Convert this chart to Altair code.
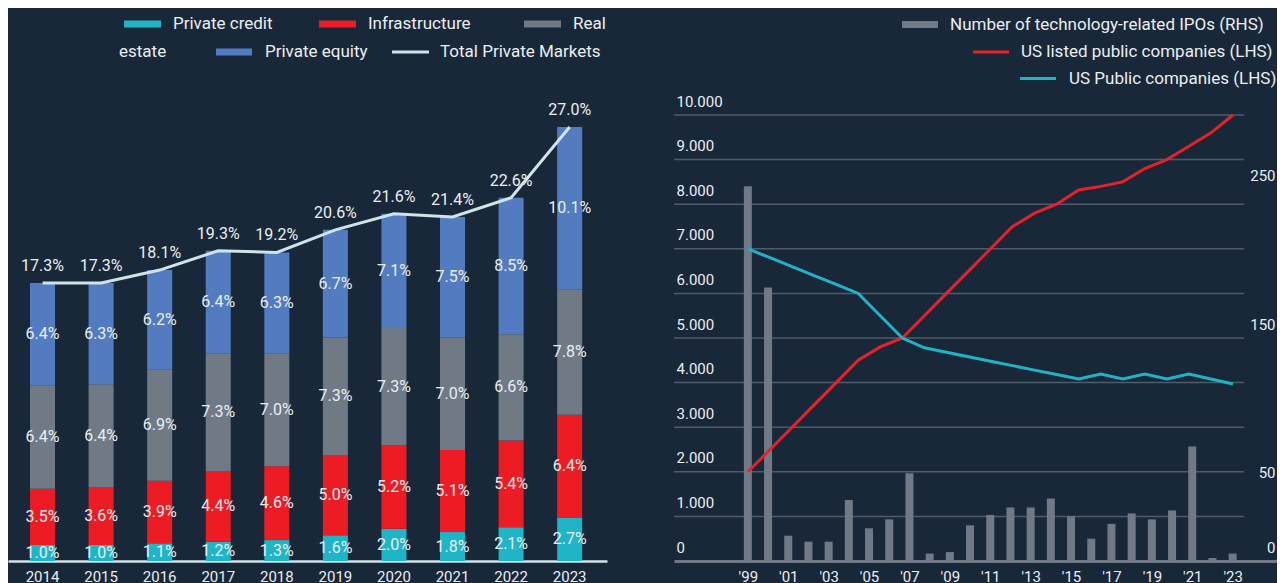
import altair as alt
import pandas as pd

FONT = "Roboto"
TXT = "#e9eef2"
BG = "#192838"

# ---------------- Left panel data ----------------
years = ["2014", "2015", "2016", "2017", "2018", "2019", "2020", "2021", "2022", "2023"]
private_credit = [1.0, 1.0, 1.1, 1.2, 1.3, 1.6, 2.0, 1.8, 2.1, 2.7]
infrastructure = [3.5, 3.6, 3.9, 4.4, 4.6, 5.0, 5.2, 5.1, 5.4, 6.4]
real_estate = [6.4, 6.4, 6.9, 7.3, 7.0, 7.3, 7.3, 7.0, 6.6, 7.8]
private_equity = [6.4, 6.3, 6.2, 6.4, 6.3, 6.7, 7.1, 7.5, 8.5, 10.1]
total_private_markets = [17.3, 17.3, 18.1, 19.3, 19.2, 20.6, 21.6, 21.4, 22.6, 27.0]
segment_names = ["Private credit", "Infrastructure", "Real estate", "Private equity"]
segment_colors = ["#20b4c7", "#ed1c24", "#6f7a86", "#537cc0"]
total_name = "Total Private Markets"
total_color = "#cfe3ea"

# ---------------- Right panel data ----------------
ipo_years = list(range(1999, 2024))
tech_ipos = [252, 184, 17, 13, 13, 41, 22, 28, 59, 5, 6, 24, 31, 36, 36, 42, 30, 15, 25, 32, 28, 34, 77, 2, 5]
line_points = list(range(23))
us_listed = [2000, 2500, 3000, 3500, 4000, 4500, 4800, 5000, 5500, 6000, 6500, 7000, 7500, 7800,
             8000, 8320, 8400, 8500, 8800, 9000, 9300, 9600, 10000]
us_public = [7000, 6800, 6600, 6400, 6200, 6000, 5500, 5000, 4780, 4680, 4580, 4480, 4380, 4280,
             4180, 4080, 4190, 4080, 4190, 4080, 4190, 4080, 3970]
ipo_name = "Number of technology-related IPOs (RHS)"
listed_name = "US listed public companies (LHS)"
public_name = "US Public companies (LHS)"
ipo_color = "#6f7a86"
listed_color = "#e8202a"
public_color = "#1fb3c7"
lhs_ticks = list(range(0, 10001, 1000))
rhs_ticks = [0, 50, 150, 250]
year_ticks = list(range(1999, 2024, 2))

# ---------------- layout ----------------
H = 553
WL = 599
WR = 603


def lin_domain(v0, p0, v1, p1, size):
    k = (p1 - p0) / (v1 - v0)
    return [v0 - p0 / k, v0 + (size - p0) / k]


left_y_dom = [0, H * 27.0 / 434]
lhs_dom = [0, H * 10000 / 446]
rhs_dom = [0, H * 300 / 446]
year_dom = lin_domain(1999, 70, 2023, 563, WR)
point_dom = lin_domain(0, 74, 22, 559, WR)

one = pd.DataFrame({"k": [0]})


def swatch(x1, x2, yc, color, h=7):
    return alt.Chart(one).mark_rect(color=color).encode(
        x=alt.value(x1), x2=alt.value(x2), y=alt.value(yc - h / 2), y2=alt.value(yc + h / 2))


def stroke(x1, x2, yc, color):
    return alt.Chart(one).mark_rule(color=color, strokeWidth=3).encode(
        x=alt.value(x1), x2=alt.value(x2), y=alt.value(yc))


def label(x, yc, text):
    return alt.Chart(one).mark_text(align="left", baseline="middle", font=FONT, fontSize=17,
                                    color=TXT).encode(x=alt.value(x), y=alt.value(yc), text=alt.value(text))


# ---------------- left panel ----------------
series_vals = [private_credit, infrastructure, real_estate, private_equity]
rows = []
for i, (name, vals) in enumerate(zip(segment_names, series_vals)):
    for yr, v in zip(years, vals):
        rows.append({"year": yr, "segment": name, "order": i, "value": v})
df_left = pd.DataFrame(rows).sort_values(["year", "order"])
df_left["top"] = df_left.groupby("year")["value"].cumsum()
df_left["mid"] = df_left["top"] - df_left["value"] / 2
df_left["label"] = df_left["value"].map(lambda v: f"{v:.1f}%")

df_total = pd.DataFrame({"year": years, "total": total_private_markets,
                         "label": [f"{t:.1f}%" for t in total_private_markets]})

yl = alt.Scale(domain=left_y_dom, nice=False, zero=True)
xl = alt.X("year:N", title=None,
           scale=alt.Scale(paddingInner=0.573, paddingOuter=0.4, align=0.47),
           axis=alt.Axis(labelAngle=0, domainColor=total_color, domainWidth=2.5, ticks=False, tickSize=0,
                         labelPadding=8, labelFontSize=15, labelColor=TXT, labelFont=FONT, grid=False,
                         labelOverlap=False))

bars = alt.Chart(df_left).mark_bar().encode(
    x=xl,
    y=alt.Y("value:Q", stack="zero", scale=yl, axis=None),
    color=alt.Color("segment:N", scale=alt.Scale(domain=segment_names, range=segment_colors), legend=None),
    order=alt.Order("order:Q", sort="ascending"),
)
seg_labels = alt.Chart(df_left).mark_text(font=FONT, fontSize=16, color=TXT, baseline="middle").encode(
    x=alt.X("year:N"), y=alt.Y("mid:Q", scale=yl, axis=None), text="label:N")
tline = alt.Chart(df_total).mark_line(color=total_color, strokeWidth=3).encode(
    x=alt.X("year:N"), y=alt.Y("total:Q", scale=yl, axis=None))
tlabels = alt.Chart(df_total).mark_text(font=FONT, fontSize=16, color=TXT, baseline="middle", dy=-17).encode(
    x=alt.X("year:N"), y=alt.Y("total:Q", scale=yl, axis=None), text="label:N")

left_legend = [
    swatch(116, 153, 16, segment_colors[0]), label(165, 16, "Private credit"),
    swatch(311, 348, 16, segment_colors[1]), label(360, 16, "Infrastructure"),
    swatch(516, 553, 16, segment_colors[2]), label(565, 16, "Real"),
    label(111, 44, "estate"),
    swatch(208, 244, 44, segment_colors[3]), label(257, 44, "Private equity"),
    stroke(384, 421, 44, total_color), label(432, 44, total_name),
]

left = alt.layer(bars, seg_labels, tline, tlabels, *left_legend).properties(width=WL, height=H)

# ---------------- right panel ----------------
df_ipo = pd.DataFrame({"year": ipo_years, "ipos": tech_ipos})
df_lines = pd.DataFrame(
    [{"point": p, "line": listed_name, "companies": v} for p, v in zip(line_points, us_listed)]
    + [{"point": p, "line": public_name, "companies": v} for p, v in zip(line_points, us_public)])
df_grid = pd.DataFrame({"v": lhs_ticks[1:]})

lhs_scale = alt.Scale(domain=lhs_dom, nice=False, zero=True)

grid = alt.Chart(df_grid).mark_rule(color="#4e5b68", strokeWidth=1.5).encode(
    y=alt.Y("v:Q", scale=lhs_scale, axis=None), x=alt.value(0), x2=alt.value(570))

ipo_bars = alt.Chart(df_ipo).mark_bar(size=8, color=ipo_color).encode(
    x=alt.X("year:Q", title=None, scale=alt.Scale(domain=year_dom, nice=False, zero=False),
            axis=alt.Axis(values=year_ticks, format="d", labelExpr="\"'\" + slice(datum.label, 2)",
                          domainColor=ipo_color, domainWidth=3, ticks=False, tickSize=0, labelPadding=8,
                          labelFontSize=15, labelColor=TXT, labelFont=FONT, grid=False,
                          labelFlush=False, labelOverlap=False)),
    y=alt.Y("ipos:Q", title=None, scale=alt.Scale(domain=rhs_dom, nice=False, zero=True),
            axis=alt.Axis(orient="right", values=rhs_ticks, domain=False, ticks=False, tickSize=0, grid=False,
                          labelAlign="right", labelPadding=-2, labelBaseline="middle", labelOffset=-14,
                          labelFontSize=15, labelColor=TXT, labelFont=FONT, labelOverlap=False,
                          labelFlush=False)),
)

lines = alt.Chart(df_lines).mark_line(strokeWidth=3).encode(
    x=alt.X("point:Q", scale=alt.Scale(domain=point_dom, nice=False, zero=False), axis=None),
    y=alt.Y("companies:Q", title=None, scale=lhs_scale,
            axis=alt.Axis(orient="left", values=lhs_ticks, format=",d",
                          labelExpr="replace(datum.label, ',', '.')", domain=False, ticks=False, tickSize=0,
                          grid=False, labelAlign="left", labelPadding=-2, labelBaseline="middle",
                          labelOffset=-14, labelFontSize=15, labelColor=TXT, labelFont=FONT,
                          labelOverlap=False, labelFlush=False)),
    color=alt.Color("line:N", scale=alt.Scale(domain=[listed_name, public_name],
                                              range=[listed_color, public_color]), legend=None),
)

right_legend = [
    swatch(228, 264, 16.5, ipo_color), label(276, 16.5, ipo_name),
    stroke(299, 335, 44, listed_color), label(347, 44, listed_name),
    stroke(346, 382, 70.5, public_color), label(395, 70.5, public_name),
]

right = alt.layer(grid, ipo_bars, lines, *right_legend).resolve_scale(
    x="independent", y="independent").properties(width=WR, height=H)

chart = alt.hconcat(left, right, spacing=67, bounds="flush").resolve_scale(color="independent").properties(
    padding=0, background=BG
).configure(font=FONT).configure_view(stroke=None, strokeWidth=0)

chart.save("out.html", embed_options={"renderer": "svg", "actions": False})
